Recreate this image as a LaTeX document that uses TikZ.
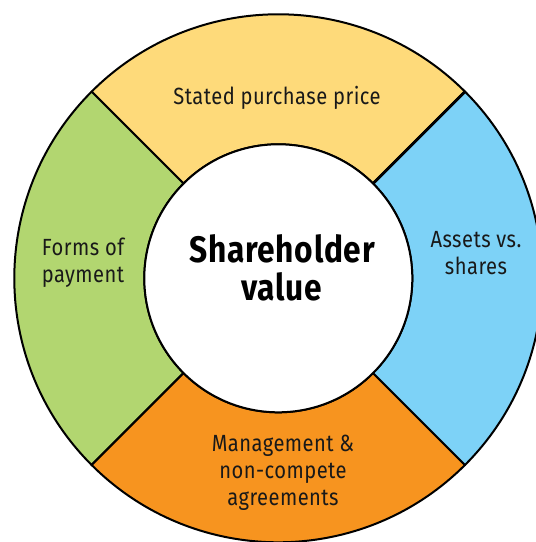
\documentclass[tikz,border=0pt]{standalone}
\usepackage{fontspec}
\setmainfont{Fira Sans}[FakeStretch=0.86,LetterSpace=2]
\definecolor{segyellow}{RGB}{254,218,122}
\definecolor{seggreen}{RGB}{178,214,112}
\definecolor{segblue}{RGB}{125,210,247}
\definecolor{segorange}{RGB}{247,148,31}
\begin{document}
\begin{tikzpicture}[x=1bp,y=1bp,
  segline/.style={draw=black,line width=2bp,line join=round},
  seglabel/.style={font=\fontsize{23.5}{27}\selectfont,align=center,inner sep=0pt,text=black!90},
  hubtitle/.style={font=\fontsize{37}{38}\selectfont\bfseries,align=center,inner sep=0pt}]
\useasboundingbox (0,0) rectangle (536,542);
\clip (0,0) rectangle (536,542);
\coordinate (c) at (278.3,263.7);
\begin{scope}[shift={(c)}]
  \path[segline,fill=segyellow] (45:264) arc[start angle=45,end angle=135,radius=264] -- (135:134) arc[start angle=135,end angle=45,radius=134] -- cycle;
  \path[segline,fill=seggreen] (135:264) arc[start angle=135,end angle=225,radius=264] -- (225:134) arc[start angle=225,end angle=135,radius=134] -- cycle;
  \path[segline,fill=segorange] (225:264) arc[start angle=225,end angle=315,radius=264] -- (315:134) arc[start angle=315,end angle=225,radius=134] -- cycle;
  \path[segline,fill=segblue] (-45:264) arc[start angle=-45,end angle=45,radius=264] -- (45:134) arc[start angle=45,end angle=-45,radius=134] -- cycle;
  \draw[line width=2.8bp] (45:134) -- (45:264);
\end{scope}
\node[circle,fill=white,draw=black,line width=2bp,minimum size=268bp,inner sep=0pt] (hub) at (c) {};
\node[hubtitle] (title) at (282,274) {Shareholder\\value};
\node[seglabel] (price) at (277,444.5) {Stated purchase price};
\node[seglabel] (forms) at (83,279.5) {Forms of\\payment};
\node[seglabel] (assets) at (476,289) {Assets vs.\\shares};
\node[seglabel] (mgmt) at (283,69.5) {Management \&\\non-compete\\agreements};
\end{tikzpicture}
\end{document}
